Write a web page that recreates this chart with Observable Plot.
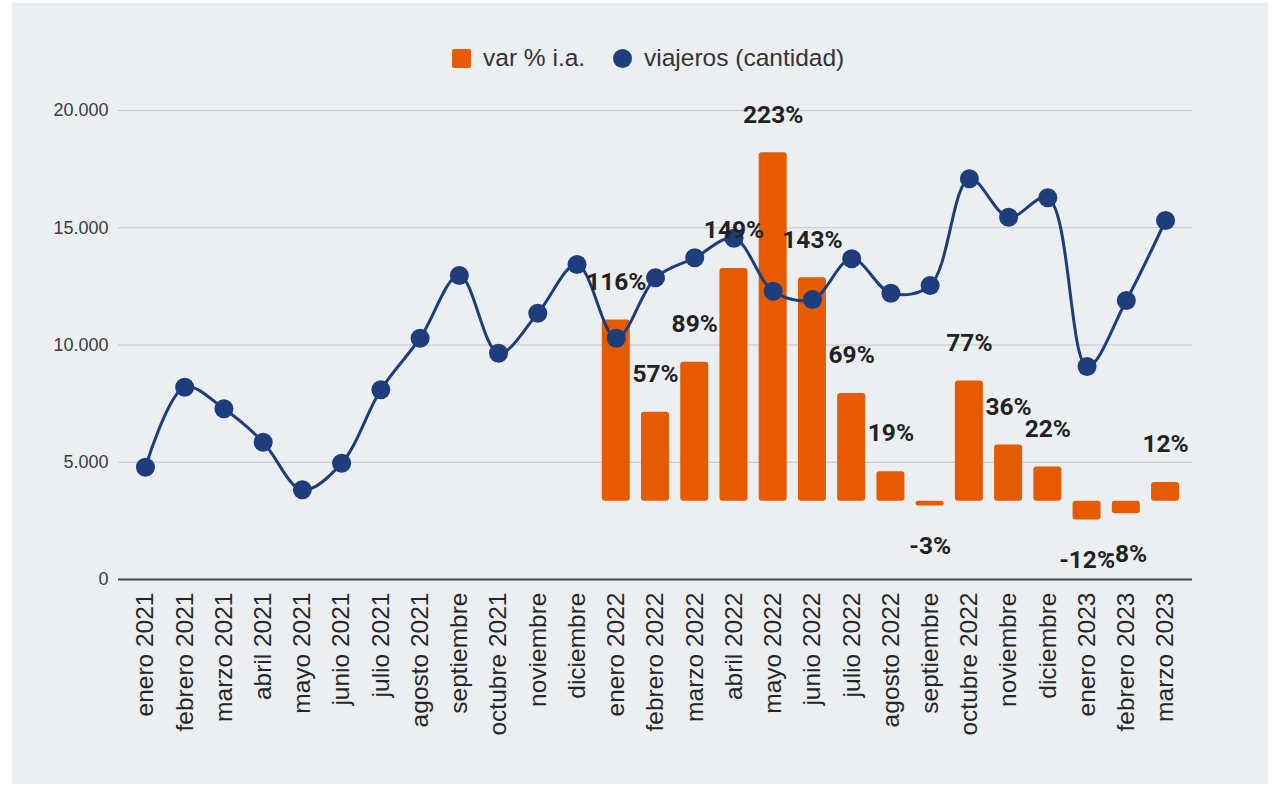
<!DOCTYPE html>
<html>
<head>
<meta charset="utf-8">
<script src="https://cdn.jsdelivr.net/npm/d3@7"></script>
<script src="https://cdn.jsdelivr.net/npm/@observablehq/plot@0.6"></script>
<style>
  html, body { margin: 0; padding: 0; background: #ffffff; }
  #panel { position: absolute; left: 12px; top: 3px; width: 1256px; height: 781px; background: #eceff1; overflow: hidden; }
  #legend { position: relative; height: 90px; font-family: "Liberation Sans", Arial, sans-serif; font-size: 24.5px; color: #333; }
  #legend .item { position: absolute; top: 40px; height: 30px; line-height: 30px; display: flex; align-items: center; white-space: nowrap; }
  #legend .sw { width: 19px; height: 19px; margin-right: 12px; flex: none; }
  #chart svg { display: block; }
</style>
</head>
<body>
<div id="panel">
  <div id="legend"></div>
  <div id="chart"></div>
</div>
<script>
// Categories (full names) and displayed tick labels
const months = [
  "enero 2021","febrero 2021","marzo 2021","abril 2021","mayo 2021","junio 2021",
  "julio 2021","agosto 2021","septiembre 2021","octubre 2021","noviembre 2021","diciembre 2021",
  "enero 2022","febrero 2022","marzo 2022","abril 2022","mayo 2022","junio 2022",
  "julio 2022","agosto 2022","septiembre 2022","octubre 2022","noviembre 2022","diciembre 2022",
  "enero 2023","febrero 2023","marzo 2023"
];
const tickLabels = [
  "enero 2021","febrero 2021","marzo 2021","abril 2021","mayo 2021","junio 2021",
  "julio 2021","agosto 2021","septiembre","octubre 2021","noviembre","diciembre",
  "enero 2022","febrero 2022","marzo 2022","abril 2022","mayo 2022","junio 2022",
  "julio 2022","agosto 2022","septiembre","octubre 2022","noviembre","diciembre",
  "enero 2023","febrero 2023","marzo 2023"
];
// viajeros (cantidad)
const viajeros = [
  4790, 8200, 7280, 5855, 3825, 4960, 8090, 10290, 12960, 9650, 11356, 13430,
  10290, 12866, 13718, 14550, 12295, 11940, 13675, 12210, 12537, 17087, 15450, 16277,
  9083, 11898, 15309
];
// var % i.a. (null where not available)
const varPct = [
  null, null, null, null, null, null, null, null, null, null, null, null,
  116, 57, 89, 149, 223, 143, 69, 19, -3, 77, 36, 22,
  -12, -8, 12
];
const yTicks = [0, 5000, 10000, 15000, 20000];
const seriesNames = ["var % i.a.", "viajeros (cantidad)"];
const colors = ["#e65a00", "#1e3d7d"];

// secondary (hidden) axis for percentages: -50% .. 250% mapped onto 0 .. 20000
const pctDomain = [-50, 250];
const yMax = 20000;
const pctToY = p => (p - pctDomain[0]) / (pctDomain[1] - pctDomain[0]) * yMax;

const lineData = months.map((m, i) => ({ month: m, v: viajeros[i] }));
const barData = months.map((m, i) => ({ month: m, pct: varPct[i] })).filter(d => d.pct != null);

const fmtThousands = d => d3.format(",")(d).replace(/,/g, ".");

// Legend
const legend = document.getElementById("legend");
legend.innerHTML = `
  <div class="item" style="left:440px"><span class="sw" style="background:${colors[0]};border-radius:2px"></span>${seriesNames[0]}</div>
  <div class="item" style="left:601px"><span class="sw" style="background:${colors[1]};border-radius:50%"></span>${seriesNames[1]}</div>`;

const labelStyle = { fontFamily: "Roboto, sans-serif", fontWeight: "bold", fontSize: 24.5, fill: "#222" };

const chart = Plot.plot({
  width: 1256,
  height: 691,
  marginTop: 17,
  marginBottom: 205,
  marginLeft: 106,
  marginRight: 76,
  style: { background: "transparent", fontFamily: "'Liberation Sans', Arial, sans-serif", overflow: "visible" },
  x: { domain: months, paddingInner: 0.286, paddingOuter: 0.33, round: false, axis: null },
  y: { domain: [0, yMax], axis: null },
  marks: [
    Plot.ruleY(yTicks.filter(t => t > 0), { stroke: "#c2c4c6", strokeWidth: 1.2 }),
    Plot.axisY({ ticks: yTicks, tickSize: 0, tickPadding: 10, tickFormat: fmtThousands, fontSize: 18, fill: "#3c3c3c", label: null }),
    Plot.axisX({ tickRotate: -90, tickSize: 0, tickPadding: 13, tickFormat: d => tickLabels[months.indexOf(d)], fontSize: 24.5, fill: "#262626", label: null }),
    Plot.barY(barData, { x: "month", y1: () => pctToY(0), y2: d => pctToY(d.pct), fill: colors[0], rx: 3 }),
    Plot.ruleY([0], { stroke: "#444", strokeWidth: 1.8 }),
    Plot.line(lineData, { x: "month", y: "v", curve: "catmull-rom", stroke: colors[1], strokeWidth: 3 }),
    Plot.dot(lineData, { x: "month", y: "v", r: 9.5, fill: colors[1], stroke: "none" }),
    Plot.text(barData.filter(d => d.pct >= 0), { x: "month", y: d => pctToY(d.pct), dy: -38, text: d => d.pct + "%", ...labelStyle }),
    Plot.text(barData.filter(d => d.pct < 0), { x: "month", y: d => pctToY(d.pct), dy: 40, text: d => d.pct + "%", ...labelStyle })
  ]
});
document.getElementById("chart").appendChild(chart);
</script>
</body>
</html>
